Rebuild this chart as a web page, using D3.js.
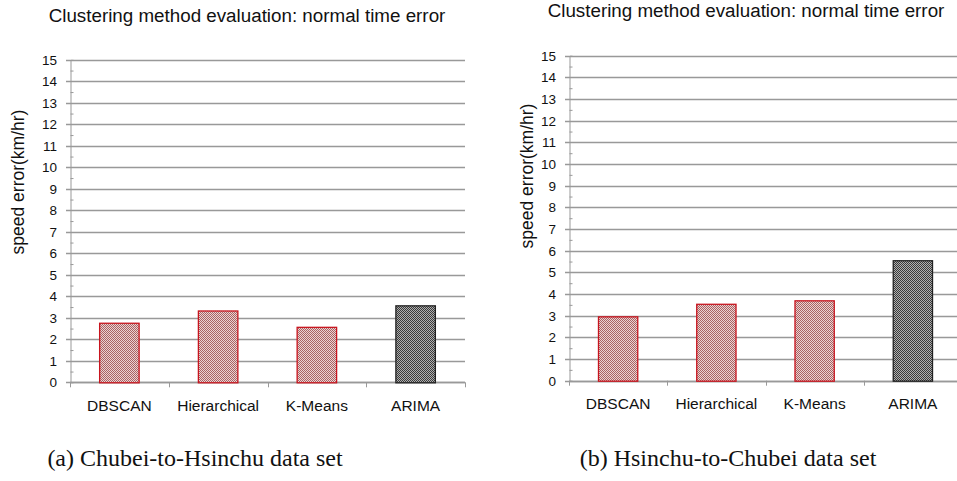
<!DOCTYPE html>
<html>
<head>
<meta charset="utf-8">
<script src="https://cdn.jsdelivr.net/npm/d3@7"></script>
<style>
  body { margin: 0; background: #fff; }
  svg { display: block; }
  text { font-family: "Liberation Sans", Arial, sans-serif; }
</style>
</head>
<body>
<svg id="chart" width="957" height="481"></svg>
<script>
// data
var categories = ["DBSCAN", "Hierarchical", "K-Means", "ARIMA"];
var valuesA = [2.77, 3.34, 2.58, 3.58];   // Chubei-to-Hsinchu
var valuesB = [2.97, 3.55, 3.71, 5.56];   // Hsinchu-to-Chubei
var yTicks = d3.range(0, 16);
var chartTitle = "Clustering method evaluation: normal time error";
var yLabel = "speed error(km/hr)";
var captionA = "(a) Chubei-to-Hsinchu data set";
var captionB = "(b) Hsinchu-to-Chubei data set";

var svg = d3.select("#chart");
var defs = svg.append("defs");

// checker patterns, red for clustering methods, black for ARIMA
function addPattern(id, c1, c2) {
  var p = defs.append("pattern")
      .attr("id", id)
      .attr("width", 2).attr("height", 2)
      .attr("patternUnits", "userSpaceOnUse");
  p.append("rect").attr("width", 2).attr("height", 2).attr("fill", c2);
  p.append("rect").attr("width", 1).attr("height", 1).attr("fill", c1);
  p.append("rect").attr("x", 1).attr("y", 1).attr("width", 1).attr("height", 1).attr("fill", c1);
}
addPattern("redcheck", "#a86464", "#ecd2d2");
addPattern("blackcheck", "#3a3a3a", "#b0b0b0");

function drawPanel(cfg) {
  var g = svg.append("g");

  var x = d3.scaleBand()
      .domain(categories)
      .range([cfg.x0, cfg.x1])
      .paddingInner(0.59)
      .paddingOuter(0.295);

  var y = d3.scaleLinear()
      .domain([0, 15])
      .range([cfg.yBottom, cfg.yTop]);

  // gridlines
  g.append("g")
    .selectAll("line")
    .data(yTicks)
    .enter()
    .append("line")
      .attr("x1", cfg.x0 - 4)
      .attr("x2", cfg.gridEnd)
      .attr("y1", function(d) { return Math.round(y(d)) + 0.5; })
      .attr("y2", function(d) { return Math.round(y(d)) + 0.5; })
      .attr("stroke", "#999")
      .attr("stroke-width", 1.3);

  // y axis with minor ticks
  var yAxis = d3.axisLeft(y)
      .tickValues(d3.range(0.5, 15, 1))
      .tickSize(-3)
      .tickFormat("");
  g.append("g")
      .attr("transform", "translate(" + (cfg.x0 + 0.5) + ",0)")
      .call(yAxis)
      .call(function(s) {
        s.select(".domain").attr("stroke", "#999");
        s.selectAll(".tick line").attr("stroke", "#999");
      });

  // y tick labels
  g.append("g")
    .selectAll("text")
    .data(yTicks)
    .enter()
    .append("text")
      .attr("x", cfg.x0 - 13)
      .attr("y", function(d) { return y(d); })
      .attr("dy", "0.36em")
      .attr("text-anchor", "end")
      .style("font-size", "13.5px")
      .attr("fill", "#111")
      .text(function(d) { return d; });

  // x axis: boundary ticks between categories
  var bounds = d3.range(0, categories.length + 1).map(function(i) {
    return cfg.x0 + i * x.step();
  });
  g.append("line")
      .attr("x1", cfg.x0).attr("x2", cfg.gridEnd)
      .attr("y1", Math.round(y(0)) + 0.5).attr("y2", Math.round(y(0)) + 0.5)
      .attr("stroke", "#999").attr("stroke-width", 1.3);
  g.append("g")
    .selectAll("line")
    .data(bounds)
    .enter()
    .append("line")
      .attr("x1", function(d) { return Math.round(d) + 0.5; })
      .attr("x2", function(d) { return Math.round(d) + 0.5; })
      .attr("y1", y(0))
      .attr("y2", y(0) + 5)
      .attr("stroke", "#999");

  // bars
  g.append("g")
    .selectAll("rect")
    .data(cfg.values)
    .enter()
    .append("rect")
      .attr("x", function(d, i) { return x(categories[i]) + 0.5; })
      .attr("y", function(d) { return y(d) + 0.5; })
      .attr("width", x.bandwidth() - 1)
      .attr("height", function(d) { return y(0) - y(d); })
      .attr("fill", function(d, i) { return i === 3 ? "url(#blackcheck)" : "url(#redcheck)"; })
      .attr("stroke", function(d, i) { return i === 3 ? "#222" : "#c8141e"; })
      .attr("stroke-width", 1.3);

  // category labels
  g.append("g")
    .selectAll("text")
    .data(categories)
    .enter()
    .append("text")
      .attr("x", function(d) { return x(d) + x.bandwidth() / 2; })
      .attr("y", cfg.yBottom + 23)
      .attr("dy", "0.35em")
      .attr("text-anchor", "middle")
      .style("font-size", "15.5px")
      .attr("fill", "#111")
      .text(function(d) { return d; });

  // title
  g.append("text")
      .attr("x", cfg.titleX)
      .attr("y", cfg.titleY)
      .attr("dy", "0.35em")
      .attr("text-anchor", "middle")
      .style("font-size", "18.8px")
      .attr("fill", "#111")
      .text(chartTitle);

  // y label
  g.append("text")
      .attr("transform", "translate(" + cfg.labelX + "," + cfg.labelY + ") rotate(-90)")
      .attr("dy", "0.35em")
      .attr("text-anchor", "middle")
      .style("font-size", "17.5px")
      .attr("fill", "#111")
      .text(yLabel);

  // caption
  g.append("text")
      .attr("x", cfg.captionX)
      .attr("y", 458)
      .attr("dy", "0.35em")
      .attr("text-anchor", "middle")
      .style("font-family", "'Liberation Serif', 'DejaVu Serif', serif")
      .style("font-size", "24px")
      .attr("fill", "#111")
      .text(cfg.caption);
}

drawPanel({
  values: valuesA, x0: 70, x1: 465, gridEnd: 465,
  yTop: 59.8, yBottom: 382.3,
  titleX: 247, titleY: 15, labelX: 18, labelY: 182,
  captionX: 195, caption: captionA
});

drawPanel({
  values: valuesB, x0: 569, x1: 962, gridEnd: 957,
  yTop: 55.7, yBottom: 380.7,
  titleX: 746, titleY: 10, labelX: 527, labelY: 176,
  captionX: 728, caption: captionB
});
</script>
</body>
</html>
